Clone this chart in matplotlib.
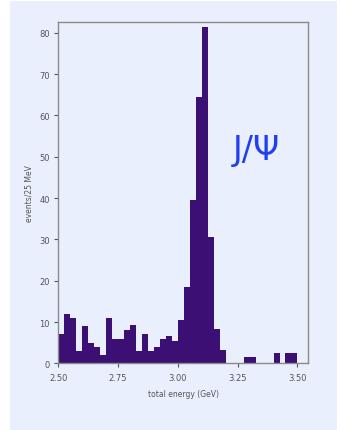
import numpy as np
import matplotlib.pyplot as plt
from matplotlib.patches import Rectangle

# Гистограмма: бины по 25 МэВ от 2.50 до 3.50 ГэВ
bin_start = 2.50
bin_width = 0.025
counts = [7, 12, 11, 3, 9, 5, 4, 2, 11, 6,
          6, 8, 9.3, 3, 7, 3, 4, 6, 6.5, 5.5,
          10.5, 18.5, 39.5, 64.5, 81.5, 30.6, 8.3, 3.2, 0, 0,
          0, 1.5, 1.5, 0, 0, 0, 2.5, 0, 2.5, 2.5]
xticks = [2.50, 2.75, 3.00, 3.25, 3.50]
xtick_labels = ['2.50', '2.75', '3.00', '3.25', '3.50']
yticks = [0, 10, 20, 30, 40, 50, 60, 70, 80]

edges = bin_start + bin_width * np.arange(len(counts))

bg = '#e9effd'
fig = plt.figure(figsize=(3.4, 4.31), dpi=100, facecolor='white')
# светло-голубая подложка
fig.patches.append(Rectangle((10 / 340, 0), 327 / 340, 429 / 431,
                             transform=fig.transFigure, facecolor=bg,
                             edgecolor='none', zorder=-1))

ax = fig.add_axes([0.1715, 0.1547, 0.735, 0.791])
ax.set_facecolor(bg)
ax.bar(edges, counts, width=bin_width, align='edge', color='#3b0f73',
       edgecolor='none')

ax.set_xlim(2.5, 3.545)
ax.set_ylim(0, 82.5)
ax.set_xticks(xticks)
ax.set_xticklabels(xtick_labels)
ax.set_yticks(yticks)

for s in ax.spines.values():
    s.set_color('#8a8a8a')
    s.set_linewidth(1.0)
ax.tick_params(labelsize=6, colors='#555555', length=3, width=0.8, pad=3)
ax.tick_params(axis='x', pad=4)

ax.set_xlabel('total energy (GeV)', fontsize=5.5, color='#555555', labelpad=5)
ax.set_ylabel('events/25 MeV', fontsize=5.5, color='#555555', labelpad=4)

ax.text(3.33, 49.5, 'J/Ψ', fontsize=24, color='#1f3ff0', ha='center',
        va='baseline')

fig.savefig('out.png', dpi=100, facecolor=fig.get_facecolor())
